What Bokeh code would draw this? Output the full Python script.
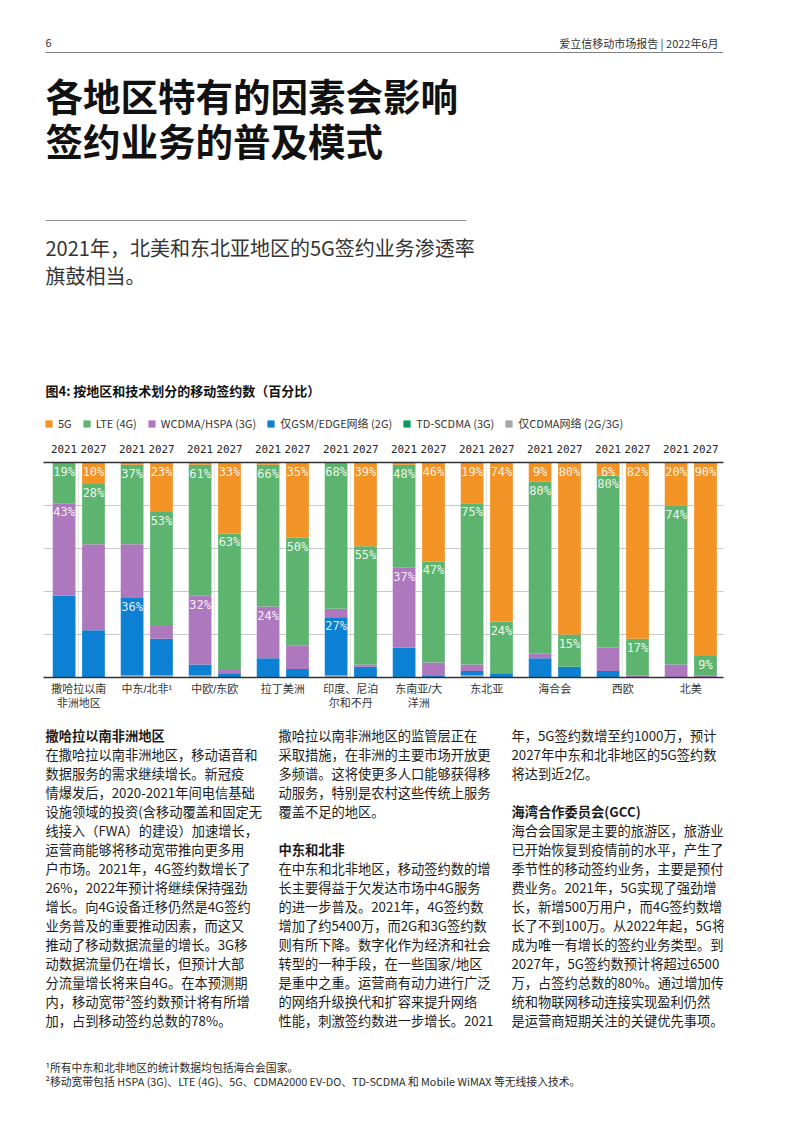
from bokeh.plotting import figure
from bokeh.models import (ColumnDataSource, Range1d, LinearAxis, FixedTicker, Legend,
                          LegendItem, Grid)
from bokeh.layouts import column
from bokeh.core.properties import value
from bokeh.embed import file_html
from bokeh.resources import INLINE

# ---------------- data ----------------
REGIONS = ["撒哈拉以南\n非洲地区", "中东/北非¹", "中欧/东欧", "拉丁美洲", "印度、尼泊\n尔和不丹",
           "东南亚/大\n洋洲", "东北亚", "海合会", "西欧", "北美"]
YEARS = ["2021", "2027"]
SERIES_KEYS = ["g5", "lte", "wcdma", "gsm", "td", "cdma"]
SERIES_NAMES = ["5G", "LTE (4G)", "WCDMA/HSPA (3G)", "仅GSM/EDGE网络 (2G)", "TD-SCDMA (3G)",
                "仅CDMA网络 (2G/3G)"]
# one value per bar: region0-2021, region0-2027, region1-2021, ...
G5 = [0, 10, 1, 23, 1, 33, 1, 35, 0, 39, 1, 46, 19, 74, 9, 80, 6, 82, 20, 90]
LTE = [19, 28, 37, 53, 61, 63, 66, 50, 68, 55, 48, 47, 75, 24, 80, 15, 80, 17, 74, 9]
WCDMA = [43, 40, 25, 6, 32, 2, 24, 11, 4, 1, 37, 6, 3, 0, 2, 0, 11, 1, 6, 1]
GSM = [38, 22, 36, 17, 5, 2, 9, 4, 27, 5, 14, 1, 2, 2, 9, 5, 3, 0, 0, 0]
TDSCDMA = [0, 0, 0, 0, 0, 0, 0, 0, 0, 0, 0, 0, 0, 0, 0, 0, 0, 0, 0, 0]
CDMA = [0, 0, 1, 1, 1, 0, 0, 0, 1, 0, 0, 0, 1, 0, 0, 0, 0, 0, 0, 0]
# which segments carry a value label, per bar
LABELS = [("lte", "wcdma"), ("g5", "lte"), ("lte", "gsm"), ("g5", "lte"),
          ("lte", "wcdma"), ("g5", "lte"), ("lte", "wcdma"), ("g5", "lte"),
          ("lte", "gsm"), ("g5", "lte"), ("lte", "wcdma"), ("g5", "lte"),
          ("g5", "lte"), ("g5", "lte"), ("g5", "lte"), ("g5", "lte"),
          ("g5", "lte"), ("g5", "lte"), ("g5", "lte"), ("g5", "lte")]

COLORS = {"g5": "#F39325", "lte": "#5CB46E", "wcdma": "#AE78BE", "gsm": "#0C80D2",
          "td": "#0A9A5C", "cdma": "#A6A6A6"}

CJK = "Noto Sans CJK SC"
W = 802
BL, BR = 43, 79          # common left/right borders -> frames span x 43..723
X0, X1 = BL, W - BR
NAN = float("nan")


def page_fig(h, y0):
    p = figure(width=W, height=h, x_range=Range1d(X0, X1), y_range=Range1d(y0 + h, y0),
               output_backend="svg", toolbar_location=None, x_axis_location=None,
               y_axis_location=None, min_border_left=BL, min_border_right=BR,
               min_border_top=0, min_border_bottom=0, outline_line_color=None)
    p.grid.visible = False
    return p


def lines(p, x, ys, texts, size, bold=False, color="#1c1c1c", align="left", font=CJK):
    p.text(x=[x] * len(texts), y=ys, text=texts, text_font=value(font), text_font_size=size,
           text_font_style="bold" if bold else "normal", text_color=color,
           text_align=align, text_baseline="middle")


# ---------------- header ----------------
HEAD_H = 436
head = page_fig(HEAD_H, 0)
lines(head, 45, [42], ["6"], "11px", color="#333333")
lines(head, 723, [42], ["爱立信移动市场报告  |  2022年6月"], "11px", color="#333333", align="right")
head.segment(x0=[45], y0=[52], x1=[723], y1=[52], line_color="#808080", line_width=1)
lines(head, 45, [94, 139], ["各地区特有的因素会影响", "签约业务的普及模式"], "37.5px", bold=True,
      color="#111111")
head.segment(x0=[45], y0=[220], x1=[466], y1=[220], line_color="#909090", line_width=1)
lines(head, 45, [247, 275], ["2021年，北美和东北亚地区的5G签约业务渗透率", "旗鼓相当。"], "20px",
      color="#333333")
lines(head, 45, [390], ["图4: 按地区和技术划分的移动签约数（百分比）"], "13px", bold=True,
      color="#111111")

# legend swatches (same colours as the stacked bars; the swatch glyphs hold no visible data)
swatch = {k: head.vbar(x=[NAN], top=[NAN], width=1, fill_color=COLORS[k], line_color=None)
          for k in SERIES_KEYS}
legend = Legend(items=[LegendItem(label=SERIES_NAMES[j], renderers=[swatch[k]])
                       for j, k in enumerate(SERIES_KEYS)],
                orientation="horizontal", location=(1, HEAD_H - 419 - 12), padding=0, margin=0,
                spacing=10, label_standoff=5, glyph_width=9, glyph_height=9,
                label_height=12, label_width=8, label_text_font=CJK,
                label_text_font_size="11px", label_text_color="#333333",
                border_line_color=None, background_fill_alpha=0)
head.add_layout(legend, "center")

# ---------------- chart ----------------
n = len(REGIONS)
OFF = 0.216
bar_x = []
for i in range(n):
    bar_x += [round(i - OFF, 3), round(i + OFF, 3)]
data = dict(x=bar_x, g5=G5, lte=LTE, wcdma=WCDMA, gsm=GSM, td=TDSCDMA, cdma=CDMA)
source = ColumnDataSource(data)

Y_BODY = 726
TOPB = 462 - HEAD_H
CH_H = Y_BODY - HEAD_H
c = figure(width=W, height=CH_H, x_range=Range1d(-0.519, n - 0.519), y_range=Range1d(0, 100),
           output_backend="svg", toolbar_location=None, x_axis_location=None,
           y_axis_location=None, min_border_left=BL, min_border_right=BR, min_border_top=TOPB,
           min_border_bottom=CH_H - TOPB - 215, outline_line_color=None)
c.add_layout(Grid(dimension=1, ticker=FixedTicker(ticks=[20, 40, 60, 80]),
                  grid_line_color="#c9c9c9", grid_line_width=1))

stack_order = ["cdma", "gsm", "td", "wcdma", "lte", "g5"]
c.vbar_stack(stack_order, x="x", width=0.334, source=source,
             fill_color=[COLORS[k] for k in stack_order], line_color=None)

lab_x, lab_y, lab_t = [], [], []
for b in range(len(bar_x)):
    cum = 0
    tops = {}
    for k in stack_order:
        cum += data[k][b]
        tops[k] = cum
    for k in LABELS[b]:
        lab_x.append(bar_x[b])
        lab_y.append(tops[k])
        lab_t.append(f"{data[k][b]}%")
c.text(x=lab_x, y=lab_y, text=lab_t, text_font=value("DejaVu Sans Mono"),
       text_font_size="12px", text_color="#ffffff", text_alpha=0.9, text_align="center",
       text_baseline="middle", y_offset=9)

top_axis = LinearAxis(ticker=FixedTicker(ticks=bar_x, minor_ticks=[]),
                      major_label_overrides={x: YEARS[j % 2] for j, x in enumerate(bar_x)},
                      major_label_text_font="DejaVu Sans Mono",
                      major_label_text_font_size="10.8px", major_label_text_color="#222222",
                      major_label_standoff=10, major_tick_out=0, major_tick_in=0,
                      minor_tick_line_color=None, axis_line_color="#333333",
                      axis_line_width=1.3)
c.add_layout(top_axis, "above")

bottom_axis = LinearAxis(ticker=FixedTicker(ticks=list(range(n)), minor_ticks=[]),
                         major_label_overrides={i: REGIONS[i] for i in range(n)},
                         major_label_text_font="Liberation Sans, Noto Sans CJK SC",
                         major_label_text_font_size="11px",
                         major_label_text_color="#333333", major_label_standoff=5,
                         major_tick_out=0, major_tick_in=0, minor_tick_line_color=None,
                         axis_line_color="#333333", axis_line_width=1.3)
c.add_layout(bottom_axis, "below")

# ---------------- body text ----------------
body = page_fig(1120 - Y_BODY, Y_BODY)
LH = 19
col1 = ["在撒哈拉以南非洲地区，移动语音和", "数据服务的需求继续增长。新冠疫",
        "情爆发后，2020-2021年间电信基础", "设施领域的投资(含移动覆盖和固定无",
        "线接入（FWA）的建设）加速增长，", "运营商能够将移动宽带推向更多用",
        "户市场。2021年，4G签约数增长了", "26%，2022年预计将继续保持强劲",
        "增长。向4G设备迁移仍然是4G签约", "业务普及的重要推动因素，而这又",
        "推动了移动数据流量的增长。3G移", "动数据流量仍在增长，但预计大部",
        "分流量增长将来自4G。在本预测期", "内，移动宽带²签约数预计将有所增",
        "加，占到移动签约总数的78%。"]
col2a = ["撒哈拉以南非洲地区的监管层正在", "采取措施，在非洲的主要市场开放更",
         "多频谱。这将使更多人口能够获得移", "动服务，特别是农村这些传统上服务",
         "覆盖不足的地区。"]
col2b = ["在中东和北非地区，移动签约数的增", "长主要得益于欠发达市场中4G服务",
         "的进一步普及。2021年，4G签约数", "增加了约5400万，而2G和3G签约数",
         "则有所下降。数字化作为经济和社会", "转型的一种手段，在一些国家/地区",
         "是重中之重。运营商有动力进行广泛", "的网络升级换代和扩容来提升网络",
         "性能，刺激签约数进一步增长。2021"]
col3a = ["年，5G签约数增至约1000万，预计", "2027年中东和北非地区的5G签约数",
         "将达到近2亿。"]
col3b = ["海合会国家是主要的旅游区，旅游业", "已开始恢复到疫情前的水平，产生了",
         "季节性的移动签约业务，主要是预付", "费业务。2021年，5G实现了强劲增",
         "长，新增500万用户，而4G签约数增", "长了不到100万。从2022年起，5G将",
         "成为唯一有增长的签约业务类型。到", "2027年，5G签约数预计将超过6500",
         "万，占签约总数的80%。通过增加传", "统和物联网移动连接实现盈利仍然",
         "是运营商短期关注的关键优先事项。"]
FS = "13.25px"
lines(body, 45, [735], ["撒哈拉以南非洲地区"], FS, bold=True)
lines(body, 45, [754 + LH * k for k in range(len(col1))], col1, FS)
lines(body, 278, [735 + LH * k for k in range(len(col2a))], col2a, FS)
lines(body, 278, [849], ["中东和北非"], FS, bold=True)
lines(body, 278, [868 + LH * k for k in range(len(col2b))], col2b, FS)
lines(body, 511, [735 + LH * k for k in range(len(col3a))], col3a, FS)
lines(body, 511, [811], ["海湾合作委员会(GCC)"], FS, bold=True)
lines(body, 511, [830 + LH * k for k in range(len(col3b))], col3b, FS)
lines(body, 45, [1066, 1080], ["¹所有中东和北非地区的统计数据均包括海合会国家。",
                               "²移动宽带包括 HSPA (3G)、LTE (4G)、5G、CDMA2000 EV-DO、TD-SCDMA 和 Mobile WiMAX 等无线接入技术。"],
      "10.8px", color="#2a2a2a")

page = column(head, c, body, spacing=0)
open("out.html", "w").write(file_html(page, INLINE, title="图4"))
